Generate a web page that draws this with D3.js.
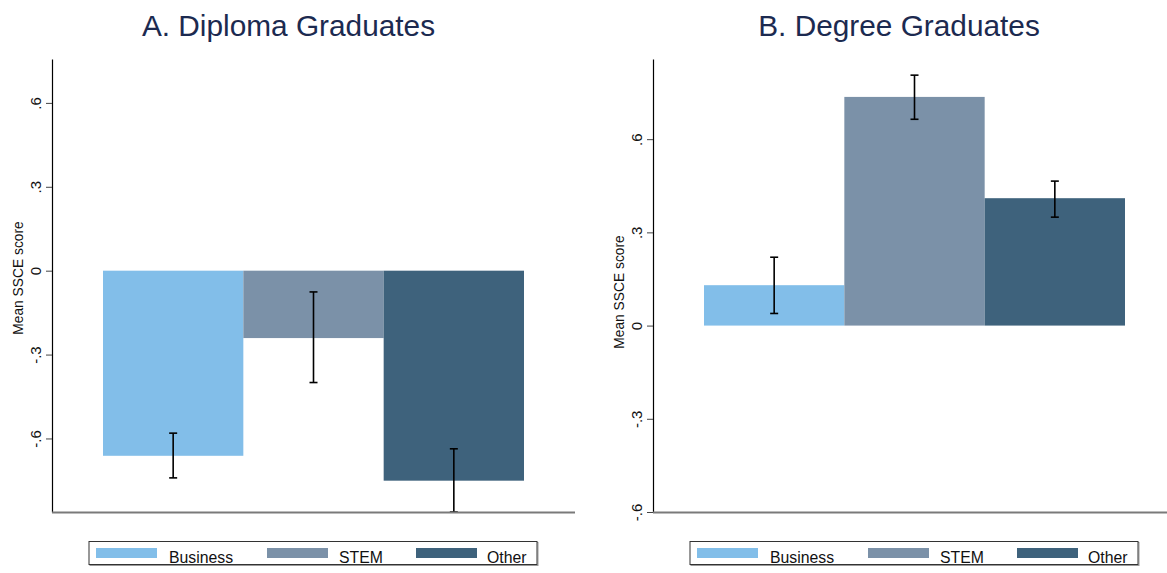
<!DOCTYPE html>
<html>
<head>
<meta charset="utf-8">
<script src="https://cdn.jsdelivr.net/npm/d3@7"></script>
<style>
  html, body { margin: 0; padding: 0; background: #ffffff; }
  svg { display: block; font-family: "Liberation Sans", Arial, Helvetica, sans-serif; }
</style>
</head>
<body>
<svg id="chart" width="1167" height="573"></svg>
<script>
// Field-of-study groups and their colours
const categories = ["Business", "STEM", "Other"];
const colors = ["#82bee9", "#7b91a8", "#3e627c"];

// Panel A: diploma graduates (mean and 95% CI)
const diplomaMeans = [-0.662, -0.241, -0.751];
const diplomaLower = [-0.741, -0.400, -0.863];
const diplomaUpper = [-0.581, -0.076, -0.637];

// Panel B: degree graduates (mean and 95% CI)
const degreeMeans = [0.130, 0.736, 0.410];
const degreeLower = [0.039, 0.664, 0.349];
const degreeUpper = [0.220, 0.806, 0.465];

// Y-axis ticks
const tickValues = [-0.6, -0.3, 0, 0.3, 0.6];
const tickLabels = ["-.6", "-.3", "0", ".3", ".6"];

const svg = d3.select("#chart");

function drawPanel(p) {
  const g = svg.append("g");

  const y = d3.scaleLinear().domain(p.yDomain).range([p.bottom, p.top]);
  const x = d3.scaleBand().domain(categories).range(p.barRange).padding(0);

  // title
  g.append("text")
    .attr("x", p.titleX).attr("y", 36)
    .attr("text-anchor", "middle")
    .attr("font-size", 29.8)
    .attr("fill", "#1c2a50")
    .text(p.title);

  // bars
  g.selectAll("rect.bar")
    .data(categories)
    .join("rect")
    .attr("class", "bar")
    .attr("x", d => x(d))
    .attr("width", x.bandwidth())
    .attr("y", (d, i) => y(Math.max(0, p.means[i])))
    .attr("height", (d, i) => Math.abs(y(p.means[i]) - y(0)))
    .attr("fill", (d, i) => colors[i]);

  // confidence intervals
  const capHalf = 4;
  categories.forEach((c, i) => {
    const cx = x(c) + x.bandwidth() / 2;
    const eg = g.append("g").attr("stroke", "#000").attr("stroke-width", 1.6);
    eg.append("line").attr("x1", cx).attr("x2", cx)
      .attr("y1", y(p.lower[i])).attr("y2", y(p.upper[i]));
    eg.append("line").attr("x1", cx - capHalf).attr("x2", cx + capHalf)
      .attr("y1", y(p.lower[i])).attr("y2", y(p.lower[i]));
    eg.append("line").attr("x1", cx - capHalf).attr("x2", cx + capHalf)
      .attr("y1", y(p.upper[i])).attr("y2", y(p.upper[i]));
  });

  // y axis
  const axis = d3.axisLeft(y)
    .tickValues(tickValues)
    .tickFormat((d, i) => tickLabels[i])
    .tickSize(6)
    .tickSizeOuter(0);
  const ag = g.append("g")
    .attr("transform", `translate(${p.axisX},0)`)
    .call(axis);
  ag.select(".domain").attr("stroke", "#000").attr("stroke-width", 1.2);
  ag.selectAll(".tick line").attr("stroke", "#444").attr("stroke-width", 1);
  ag.selectAll(".tick text")
    .attr("transform", "rotate(-90)")
    .attr("x", 0).attr("y", -11).attr("dy", 0)
    .attr("text-anchor", "middle")
    .attr("font-size", 15)
    .attr("font-family", "Liberation Sans, Arial, sans-serif")
    .attr("fill", "#111");

  // bottom axis line
  g.append("line")
    .attr("x1", p.axisX).attr("x2", p.plotRight)
    .attr("y1", p.bottom + 0.5).attr("y2", p.bottom + 0.5)
    .attr("stroke", "#7a7a7a").attr("stroke-width", 2);

  // y axis title
  g.append("text")
    .attr("transform", `translate(${p.axisX - 29},${p.yTitleY}) rotate(-90)`)
    .attr("text-anchor", "middle")
    .attr("font-size", 13.8)
    .attr("fill", "#111")
    .text("Mean SSCE score");

  // legend
  const lg = g.append("g");
  lg.append("rect")
    .attr("x", p.legendX + 1).attr("y", 542.5)
    .attr("width", 448).attr("height", 23)
    .attr("fill", "none").attr("stroke", "#999").attr("stroke-width", 1);
  lg.append("rect")
    .attr("x", p.legendX).attr("y", 541.5)
    .attr("width", 448).attr("height", 23)
    .attr("fill", "#fff").attr("stroke", "#333").attr("stroke-width", 1);
  const swatchOffsets = [7, 178, 327];
  const textOffsets = [80, 250, 398];
  categories.forEach((c, i) => {
    lg.append("rect")
      .attr("x", p.legendX + swatchOffsets[i]).attr("y", 548)
      .attr("width", 61).attr("height", 10)
      .attr("fill", colors[i]);
    lg.append("text")
      .attr("x", p.legendX + textOffsets[i]).attr("y", 562.5)
      .attr("font-size", 15.8)
      .attr("fill", "#111")
      .text(c);
  });
}

drawPanel({
  title: "A. Diploma Graduates",
  titleX: 288.5,
  means: diplomaMeans, lower: diplomaLower, upper: diplomaUpper,
  yDomain: [-0.863, 0.757],
  top: 59, bottom: 512,
  axisX: 52, plotRight: 575,
  barRange: [103, 524],
  yTitleY: 278,
  legendX: 89
});

drawPanel({
  title: "B. Degree Graduates",
  titleX: 899,
  means: degreeMeans, lower: degreeLower, upper: degreeUpper,
  yDomain: [-0.6, 0.858],
  top: 59, bottom: 512,
  axisX: 653, plotRight: 1167,
  barRange: [704, 1125],
  yTitleY: 292,
  legendX: 690
});
</script>
</body>
</html>
